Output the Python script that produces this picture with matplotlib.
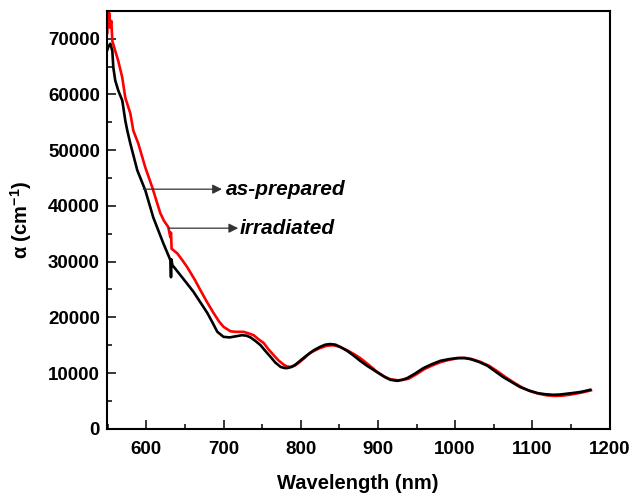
import matplotlib
matplotlib.use("Agg")
import matplotlib.pyplot as plt
from matplotlib.ticker import MultipleLocator

plt.rcParams['font.family'] = ['Liberation Sans', 'DejaVu Sans']
plt.rcParams['font.weight'] = 'bold'
plt.rcParams['mathtext.fontset'] = 'custom'
plt.rcParams['mathtext.bf'] = 'Liberation Sans:bold'
plt.rcParams['mathtext.rm'] = 'Liberation Sans:bold'

# Absorption coefficient spectra (wavelength in nm, alpha in cm^-1)
wl_prepared = [549.5, 551.0, 553.4, 556.0, 557.3, 559.8, 563.7, 568.9, 572.8, 575.4,
               579.3, 588.3, 598.7, 609.1, 622.0, 631.1, 632.0, 632.6, 633.7, 644.0,
               652.0, 661.0, 670.0, 679.0, 686.0, 692.0, 700.0, 708.0, 716.0, 724.0,
               730.0, 735.0, 741.0, 748.0, 754.0, 761.0, 767.0, 774.0, 779.0, 783.0,
               788.0, 793.0, 800.0, 808.0, 817.0, 825.0, 832.0, 838.0, 845.0, 851.0,
               860.0, 868.0, 877.0, 886.0, 894.0, 903.0, 910.0, 916.0, 925.0, 932.0,
               938.0, 948.0, 959.0, 970.0, 981.0, 992.0, 1003.0, 1012.0, 1020.0, 1031.0,
               1042.0, 1052.0, 1062.0, 1073.0, 1084.0, 1095.0, 1107.0, 1117.0, 1127.0, 1136.0,
               1145.0, 1154.0, 1162.0, 1169.0, 1175.0]
alpha_prepared = [68000, 68600, 69100, 67800, 64800, 62500, 60700, 58900, 55300, 53500,
                  51200, 46400, 42800, 37900, 33300, 30300, 27200, 30400, 29400, 27600,
                  26200, 24600, 22700, 20800, 19000, 17400, 16500, 16400, 16600, 16800,
                  16700, 16400, 15800, 15000, 14000, 12900, 11900, 11100, 10900, 10900,
                  11100, 11500, 12300, 13200, 14100, 14700, 15100, 15200, 15100, 14700,
                  14000, 13200, 12200, 11300, 10600, 9800, 9200, 8800, 8600, 8800,
                  9100, 9900, 10900, 11600, 12200, 12500, 12700, 12700, 12500, 12000,
                  11300, 10300, 9300, 8400, 7500, 6900, 6400, 6200, 6100, 6150,
                  6300, 6450, 6600, 6800, 7000]

wl_irradiated = [549.5, 550.5, 551.3, 552.1, 553.0, 554.7, 556.0, 559.8, 563.7, 568.9,
                 572.8, 579.3, 583.2, 589.6, 598.7, 607.8, 618.1, 623.0, 628.5, 631.1,
                 632.0, 632.8, 640.0, 647.0, 653.0, 663.0, 670.0, 678.0, 687.0, 694.0,
                 700.0, 709.0, 716.0, 726.0, 733.0, 739.0, 745.0, 752.0, 758.0, 765.0,
                 771.0, 778.0, 782.0, 787.0, 792.0, 797.0, 805.0, 812.0, 819.0, 825.0,
                 834.0, 842.0, 851.0, 860.0, 869.0, 877.0, 888.0, 899.0, 908.0, 916.0,
                 926.0, 933.0, 940.0, 950.0, 960.0, 971.0, 982.0, 993.0, 1005.0, 1014.0,
                 1022.0, 1033.0, 1044.0, 1055.0, 1065.0, 1076.0, 1087.0, 1098.0, 1108.0, 1119.0,
                 1130.0, 1139.0, 1148.0, 1156.0, 1164.0, 1170.0, 1176.0]
alpha_irradiated = [71000, 75000, 72500, 74600, 72000, 73200, 69600, 67800, 66000, 63000,
                    59400, 56600, 53500, 51200, 46900, 43300, 38700, 37300, 36200, 34400,
                    35200, 32300, 31500, 30200, 29000, 26700, 24900, 22900, 20800, 19300,
                    18300, 17500, 17400, 17400, 17100, 16800, 16100, 15400, 14300, 13200,
                    12300, 11500, 11200, 11100, 11300, 11800, 12700, 13600, 14100, 14500,
                    14900, 15000, 14700, 14100, 13400, 12700, 11500, 10200, 9400, 8900,
                    8700, 8800, 9000, 9800, 10700, 11400, 12000, 12400, 12700, 12700,
                    12500, 12000, 11300, 10300, 9300, 8300, 7400, 6700, 6300, 6000,
                    5900, 5950, 6100, 6300, 6500, 6700, 6900]

fig = plt.figure(figsize=(6.29, 4.94), dpi=100)
ax = fig.add_axes([0.170, 0.132, 0.799, 0.846])

ax.plot(wl_irradiated, alpha_irradiated, color='#ff0000', lw=1.9, solid_joinstyle='round')
ax.plot(wl_prepared, alpha_prepared, color='black', lw=1.9, solid_joinstyle='round')

ax.set_xlim(549, 1200)
ax.set_ylim(0, 75000)
ax.xaxis.set_major_locator(MultipleLocator(100))
ax.xaxis.set_minor_locator(MultipleLocator(50))
ax.yaxis.set_major_locator(MultipleLocator(10000))
ax.yaxis.set_minor_locator(MultipleLocator(5000))

ax.tick_params(which='both', direction='in', top=False, right=False, width=1.1)
ax.tick_params(which='major', length=6.5)
ax.tick_params(which='minor', length=3.5)
ax.tick_params(axis='x', which='major', pad=9, labelsize=13.5)
ax.tick_params(axis='y', which='major', pad=5, labelsize=13.5)
for s in ax.spines.values():
    s.set_linewidth(1.5)

ax.set_xlabel('Wavelength (nm)', fontsize=14.5, fontweight='bold', labelpad=11)
ax.set_ylabel('\u03b1 (cm$^{\\mathbf{-1}}$)', fontsize=14.5, fontweight='bold', labelpad=10)

arrow_style = dict(arrowstyle='-|>', color='#333333', lw=0.9, mutation_scale=14,
                   shrinkA=0, shrinkB=0)
ax.annotate('', xy=(698, 43000), xytext=(596, 43000), arrowprops=arrow_style)
ax.text(703, 43000, 'as-prepared', fontsize=15, fontweight='bold', fontstyle='italic',
        va='center', ha='left')
ax.annotate('', xy=(719, 36000), xytext=(628.5, 36000), arrowprops=arrow_style)
ax.text(721, 36000, 'irradiated', fontsize=15, fontweight='bold', fontstyle='italic',
        va='center', ha='left')

fig.savefig('out.png', dpi=100)
